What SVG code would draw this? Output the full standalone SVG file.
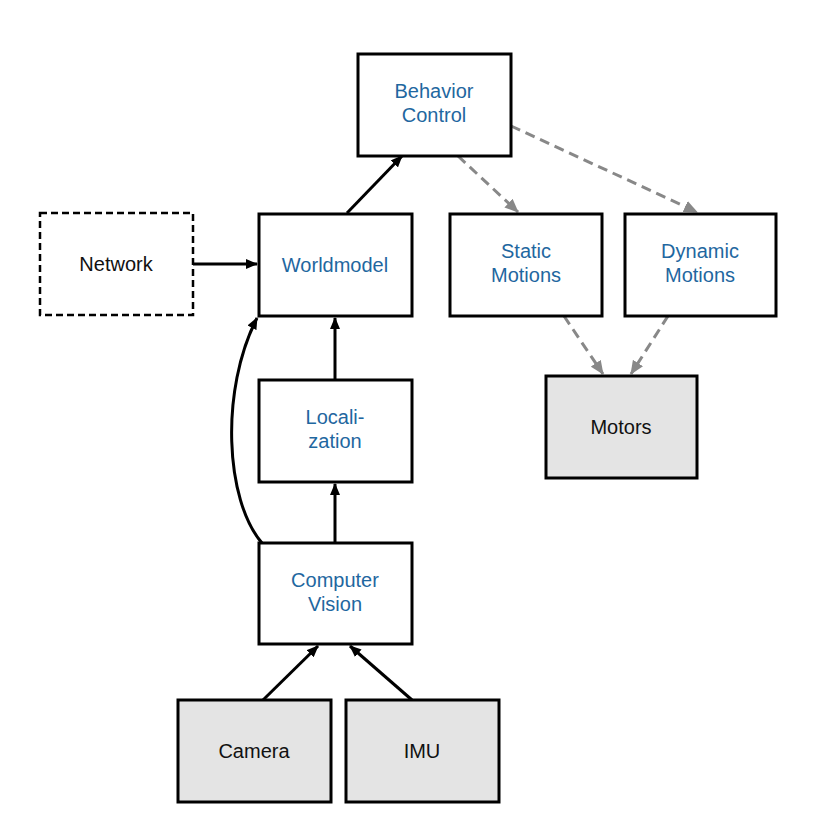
<svg xmlns="http://www.w3.org/2000/svg" width="816" height="835" viewBox="0 0 816 835">
<style>
.b{fill:#fff;stroke:#000;stroke-width:3}
.g{fill:#e4e4e4;stroke:#000;stroke-width:3}
.d{fill:#fff;stroke:#000;stroke-width:2.5;stroke-dasharray:7,4}
text{font-family:"Liberation Sans",Arial,sans-serif;font-size:20px;text-anchor:middle}
.t{fill:#1f67a0}
.k{fill:#111}
.s{stroke:#000;stroke-width:3;fill:none}
.x{stroke:#888;stroke-width:3;fill:none;stroke-dasharray:10,6}
</style>
<defs>
<marker id="a" markerWidth="12" markerHeight="10" refX="11" refY="5" orient="auto" markerUnits="userSpaceOnUse" viewBox="0 0 12 10"><path d="M0,0L12,5L0,10z" fill="#000"/></marker>
<marker id="ag" markerWidth="14" markerHeight="12" refX="13" refY="6" orient="auto" markerUnits="userSpaceOnUse" viewBox="0 0 14 12"><path d="M0,0L14,6L0,12z" fill="#888"/></marker>
</defs>
<g id="connectors">
<path class="s" d="M347,213L402,156" marker-end="url(#a)" style="marker-end:url(#a)"/>
<path class="s" d="M193,264L257,264" marker-end="url(#a)"/>
<path class="s" d="M335,380L335,318" marker-end="url(#a)"/>
<path class="s" d="M335,543L335,484" marker-end="url(#a)"/>
<path class="s" d="M262,543C225,500 220,390 257,318" marker-end="url(#a)"/>
<path class="s" d="M263,700L318,646" marker-end="url(#a)"/>
<path class="s" d="M412,700L350,646" marker-end="url(#a)"/>
<path class="x" d="M458,156L518,212" marker-end="url(#ag)"/>
<path class="x" d="M511,126L697,212" marker-end="url(#ag)"/>
<path class="x" d="M564,316L603,374" marker-end="url(#ag)"/>
<path class="x" d="M668,316L631,374" marker-end="url(#ag)"/>
</g>
<g id="behavior"><rect class="b" x="358" y="54" width="153" height="102"/><text class="t" x="434" y="98">Behavior</text><text class="t" x="434" y="122">Control</text></g>
<g id="network"><rect class="d" x="40" y="213" width="153" height="102"/><text class="k" x="116" y="271">Network</text></g>
<g id="worldmodel"><rect class="b" x="259" y="214" width="153" height="102"/><text class="t" x="335" y="272">Worldmodel</text></g>
<g id="static"><rect class="b" x="450" y="214" width="152" height="102"/><text class="t" x="526" y="258">Static</text><text class="t" x="526" y="282">Motions</text></g>
<g id="dynamic"><rect class="b" x="625" y="214" width="151" height="102"/><text class="t" x="700" y="258">Dynamic</text><text class="t" x="700" y="282">Motions</text></g>
<g id="motors"><rect class="g" x="546" y="376" width="151" height="102"/><text class="k" x="621" y="434">Motors</text></g>
<g id="localization"><rect class="b" x="259" y="380" width="153" height="102"/><text class="t" x="335" y="424">Locali-</text><text class="t" x="335" y="448">zation</text></g>
<g id="vision"><rect class="b" x="259" y="543" width="153" height="101"/><text class="t" x="335" y="587">Computer</text><text class="t" x="335" y="611">Vision</text></g>
<g id="camera"><rect class="g" x="178" y="700" width="153" height="102"/><text class="k" x="254" y="758">Camera</text></g>
<g id="imu"><rect class="g" x="346" y="700" width="153" height="102"/><text class="k" x="422" y="758">IMU</text></g>
</svg>
